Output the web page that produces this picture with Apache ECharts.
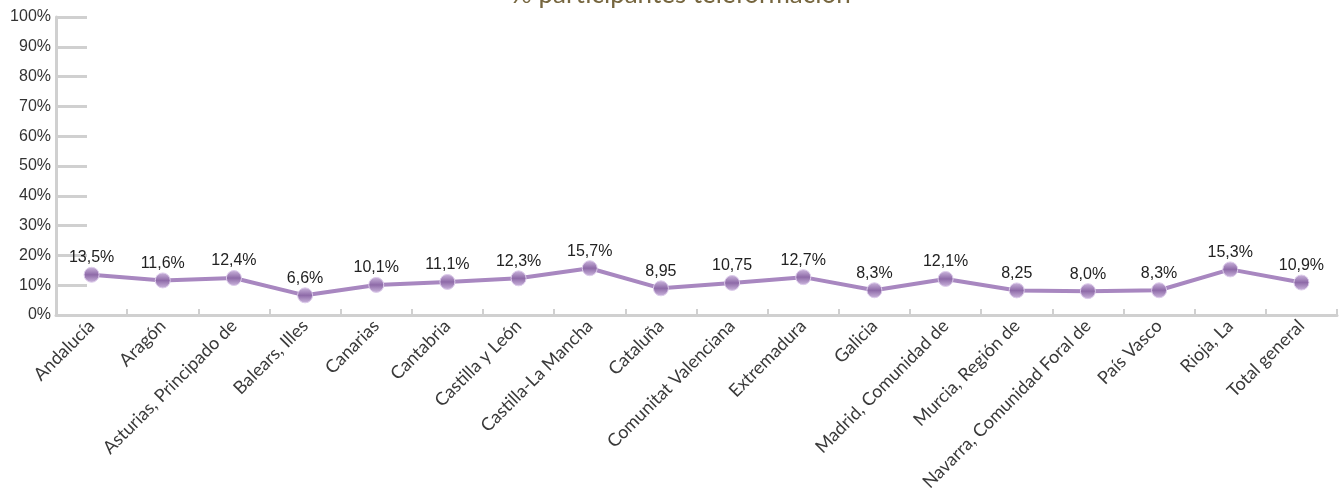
<!DOCTYPE html>
<html>
<head>
<meta charset="utf-8">
<script src="https://cdn.jsdelivr.net/npm/echarts@6/dist/echarts.min.js"></script>
<style>
  html, body { margin: 0; padding: 0; background: #fff; }
  #chart { width: 1342px; height: 498px; }
</style>
</head>
<body>
<div id="chart"></div>
<script>
// regiones
var categories = ['Andalucía', 'Aragón', 'Asturias, Principado de', 'Balears, Illes', 'Canarias', 'Cantabria',
  'Castilla y León', 'Castilla-La Mancha', 'Cataluña', 'Comunitat Valenciana', 'Extremadura', 'Galicia',
  'Madrid, Comunidad de', 'Murcia, Región de', 'Navarra, Comunidad Foral de', 'País Vasco', 'Rioja, La', 'Total general']
var values = [13.5, 11.6, 12.4, 6.6, 10.1, 11.1, 12.3, 15.7, 8.95, 10.75, 12.7, 8.3, 12.1, 8.25, 8.0, 8.3, 15.3, 10.9]
var valueLabels = ['13,5%', '11,6%', '12,4%', '6,6%', '10,1%', '11,1%', '12,3%', '15,7%', '8,95', '10,75',
  '12,7%', '8,3%', '12,1%', '8,25', '8,0%', '8,3%', '15,3%', '10,9%']

var myChart = echarts.init(document.getElementById('chart'))
var option = {
  animation: false,
  title: {
    text: '% participantes teleformación',
    left: 506,
    top: -23,
    textStyle: { color: '#76663f', fontSize: 26, fontWeight: 'normal', fontFamily: 'Lato' }
  },
  grid: { left: 56, right: 5, top: 17, bottom: 183, containLabel: false },
  xAxis: {
    type: 'category',
    data: categories,
    boundaryGap: true,
    axisLine: { lineStyle: { color: '#d0d0d0', width: 3 } },
    axisTick: { show: true, inside: true, length: 6, lineStyle: { color: '#d0d0d0', width: 2 } },
    axisLabel: { rotate: 45, interval: 0, margin: 8, color: '#3a3a3a', fontSize: 18, fontFamily: 'Lato' }
  },
  yAxis: {
    type: 'value',
    min: 0,
    max: 100,
    interval: 10,
    splitLine: { show: false },
    axisLine: { show: true, lineStyle: { color: '#d0d0d0', width: 3 } },
    axisTick: { show: true, inside: true, length: 31, lineStyle: { color: '#d0d0d0', width: 3 } },
    axisLabel: { formatter: '{value}%', color: '#333', fontSize: 16, margin: 5, fontFamily: 'Liberation Sans' }
  },
  series: [{
    type: 'line',
    data: values,
    symbol: 'circle',
    symbolSize: 15,
    lineStyle: { color: '#a887c0', width: 4 },
    itemStyle: {
      color: new echarts.graphic.LinearGradient(0, 0, 0, 1, [
        { offset: 0, color: '#cdb8de' },
        { offset: 0.5, color: '#8e6aa8' },
        { offset: 1, color: '#cdb8de' }
      ]),
      borderColor: '#dccbea',
      borderWidth: 1
    },
    label: {
      show: true,
      position: 'top',
      distance: 1,
      color: '#222',
      fontSize: 16,
      fontFamily: 'Liberation Sans',
      formatter: function (p) { return valueLabels[p.dataIndex] }
    }
  }]
}
myChart.setOption(option)
</script>
</body>
</html>
